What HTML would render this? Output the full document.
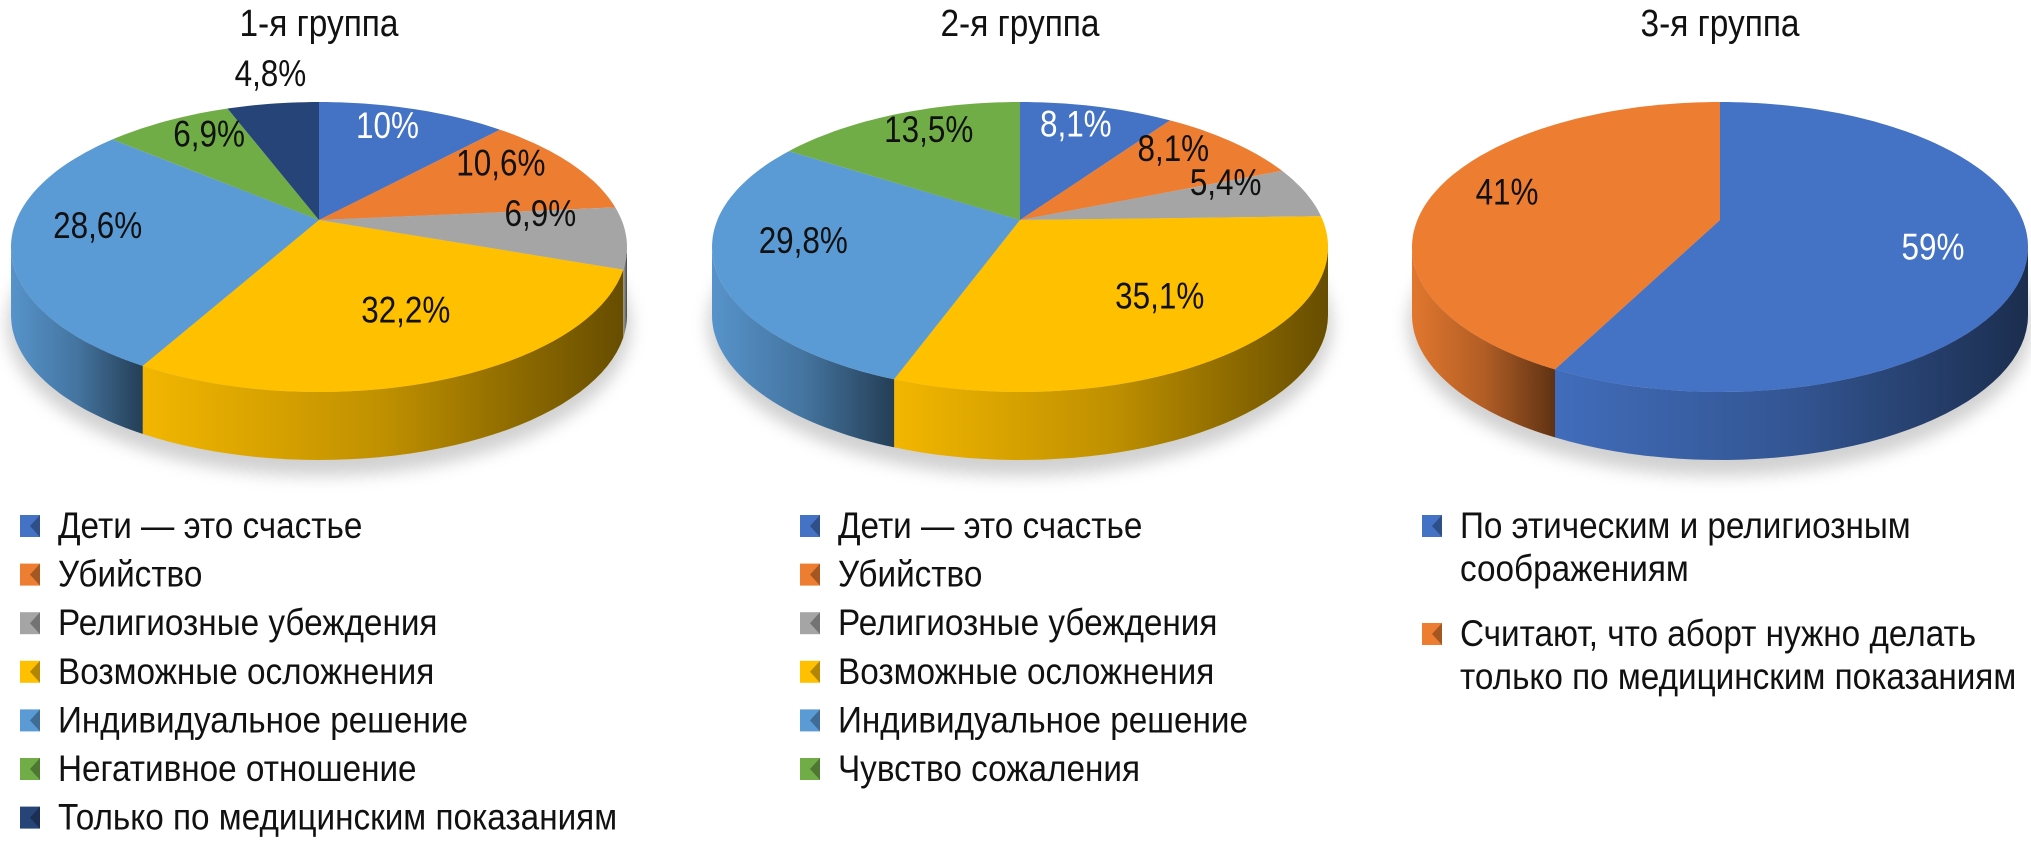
<!DOCTYPE html>
<html><head><meta charset="utf-8"><style>
body{margin:0;background:#fff;}
svg{display:block;font-family:"Liberation Sans","DejaVu Sans",sans-serif;}
</style></head><body>
<svg id="chart" width="2031" height="866" viewBox="0 0 2031 866">
<defs>
<linearGradient id="shade" x1="0" x2="1" y1="0" y2="0">
<stop offset="0" stop-color="#000" stop-opacity="0.05"/>
<stop offset="0.5" stop-color="#000" stop-opacity="0.25"/>
<stop offset="1" stop-color="#000" stop-opacity="0.6"/>
</linearGradient>
<filter id="blur" x="-20%" y="-20%" width="140%" height="140%"><feGaussianBlur stdDeviation="8"/></filter>
</defs>
<g id="layer"></g>
</svg>
<script>
const g1Labels = ["Дети — это счастье","Убийство","Религиозные убеждения","Возможные осложнения","Индивидуальное решение","Негативное отношение","Только по медицинским показаниям"];
const g1Values = [10, 10.6, 6.9, 32.2, 28.6, 6.9, 4.8];
const g1Text = ["10%","10,6%","6,9%","32,2%","28,6%","6,9%","4,8%"];
const g2Labels = ["Дети — это счастье","Убийство","Религиозные убеждения","Возможные осложнения","Индивидуальное решение","Чувство сожаления"];
const g2Values = [8.1, 8.1, 5.4, 35.1, 29.8, 13.5];
const g2Text = ["8,1%","8,1%","5,4%","35,1%","29,8%","13,5%"];
const g3Labels = [["По этическим и религиозным","соображениям"],["Считают, что аборт нужно делать","только по медицинским показаниям"]];
const g3Values = [59, 41];
const g3Text = ["59%","41%"];
const titles = ["1-я группа","2-я группа","3-я группа"];

const C1 = ["#4472C4","#ED7D31","#A5A5A5","#FFC000","#5B9BD5","#70AD47","#264478"];
const C2 = ["#4472C4","#ED7D31","#A5A5A5","#FFC000","#5B9BD5","#70AD47"];
const C3 = ["#4472C4","#ED7D31"];
const NS = "http://www.w3.org/2000/svg";
const layer = document.getElementById('layer');
function mk(tag, attrs, parent){const e=document.createElementNS(NS,tag);for(const k in attrs)e.setAttribute(k,attrs[k]);(parent||layer).appendChild(e);return e;}

function drawPie(idx, cx, values, texts, colors, whiteIdx){
  const cy=247, rx=308, ry=145, depth=68, ay=220;
  const grp = mk('g',{});
  
  
  const sh = mk('ellipse',{cx:cx,cy:cy+depth+10,rx:rx+4,ry:ry+6,fill:'#000','fill-opacity':0.18,filter:'url(#blur)'},grp);
  
  
  const total = values.reduce((a,b)=>a+b,0);
  const P = (t,dy)=>[cx+rx*Math.sin(t), cy-ry*Math.cos(t)+(dy||0)];
  let acc=0; const angs=[];
  values.forEach(v=>{const a0=acc/total*2*Math.PI; acc+=v; angs.push([a0, acc/total*2*Math.PI]);});
  angs.forEach(([a0,a1],i)=>{
    const s=Math.max(a0,Math.PI/2), e=Math.min(a1,3*Math.PI/2);
    if(e<=s) return;
    const N=40; const pts=[];
    for(let k=0;k<=N;k++){pts.push(P(s+(e-s)*k/N));}
    for(let k=N;k>=0;k--){pts.push(P(s+(e-s)*k/N,depth));}
    const d='M'+pts.map(p=>p[0].toFixed(1)+','+p[1].toFixed(1)).join(' L')+'Z';
    const side=mk('path',{d:d,fill:colors[i]},grp);
    
    
    const sh2=mk('path',{d:d,fill:'url(#shade)'},grp);
    
    
  });
  angs.forEach(([a0,a1],i)=>{
    const N=Math.max(4,Math.ceil((a1-a0)*40));
    const pts=[[cx,ay]];
    for(let k=0;k<=N;k++) pts.push(P(a0+(a1-a0)*k/N));
    const d='M'+pts.map(p=>p[0].toFixed(1)+','+p[1].toFixed(1)).join(' L')+'Z';
    const sl=mk('path',{d:d,fill:colors[i]},grp);
    
    
  });
  angs.forEach(([a0,a1],i)=>{
    const m=(a0+a1)/2;
    let x,y;
    if(values[i]<5){ x=cx+rx*Math.sin(m)*1.05; y=cy-ry-28; }
    else { x=cx+rx*0.72*Math.sin(m); y=ay-ry*0.68*Math.cos(m); }
    const t=mk('text',{x:x,y:y+12,'text-anchor':'middle','font-size':37,fill:(whiteIdx.includes(i)?'#fff':'#111'),transform:`translate(${x},0) scale(0.85,1) translate(${-x},0)`},grp);
    t.textContent=texts[i];
    
    
  });
  const tt=mk('text',{x:cx,y:36,'text-anchor':'middle','font-size':38,fill:'#111',transform:`translate(${cx},0) scale(0.88,1) translate(${-cx},0)`},grp);
  tt.textContent=titles[idx];
  
  
}
drawPie(0,319,g1Values,g1Text,C1,[0]);
drawPie(1,1020,g2Values,g2Text,C2,[0]);
drawPie(2,1720,g3Values,g3Text,C3,[0]);

function legendItem(x,y,color,lines,lineGap){
  const g=mk('g',{});
  
  
  const r=mk('rect',{x:x,y:y-11,width:20,height:22,fill:color},g);
  
  
  const tri=mk('path',{d:`M${x+20},${y-11} L${x+10},${y} L${x+20},${y+11}Z`,fill:'#000','fill-opacity':0.3},g);
  
  
  lines.forEach((s,k)=>{
    const tx=x+38, ty=y+12+k*lineGap;
    const t=mk('text',{x:tx,y:ty,'font-size':37,fill:'#111',transform:`translate(${tx},0) scale(0.9,1) translate(${-tx},0)`},g);
    t.textContent=s;
    
    
  });
}
g1Labels.forEach((s,i)=>legendItem(20,526+i*48.6,C1[i],[s],0));
g2Labels.forEach((s,i)=>legendItem(800,526+i*48.6,C2[i],[s],0));
legendItem(1422,526,C3[0],g3Labels[0],43);
legendItem(1422,634,C3[1],g3Labels[1],43);
</script>
</body></html>
